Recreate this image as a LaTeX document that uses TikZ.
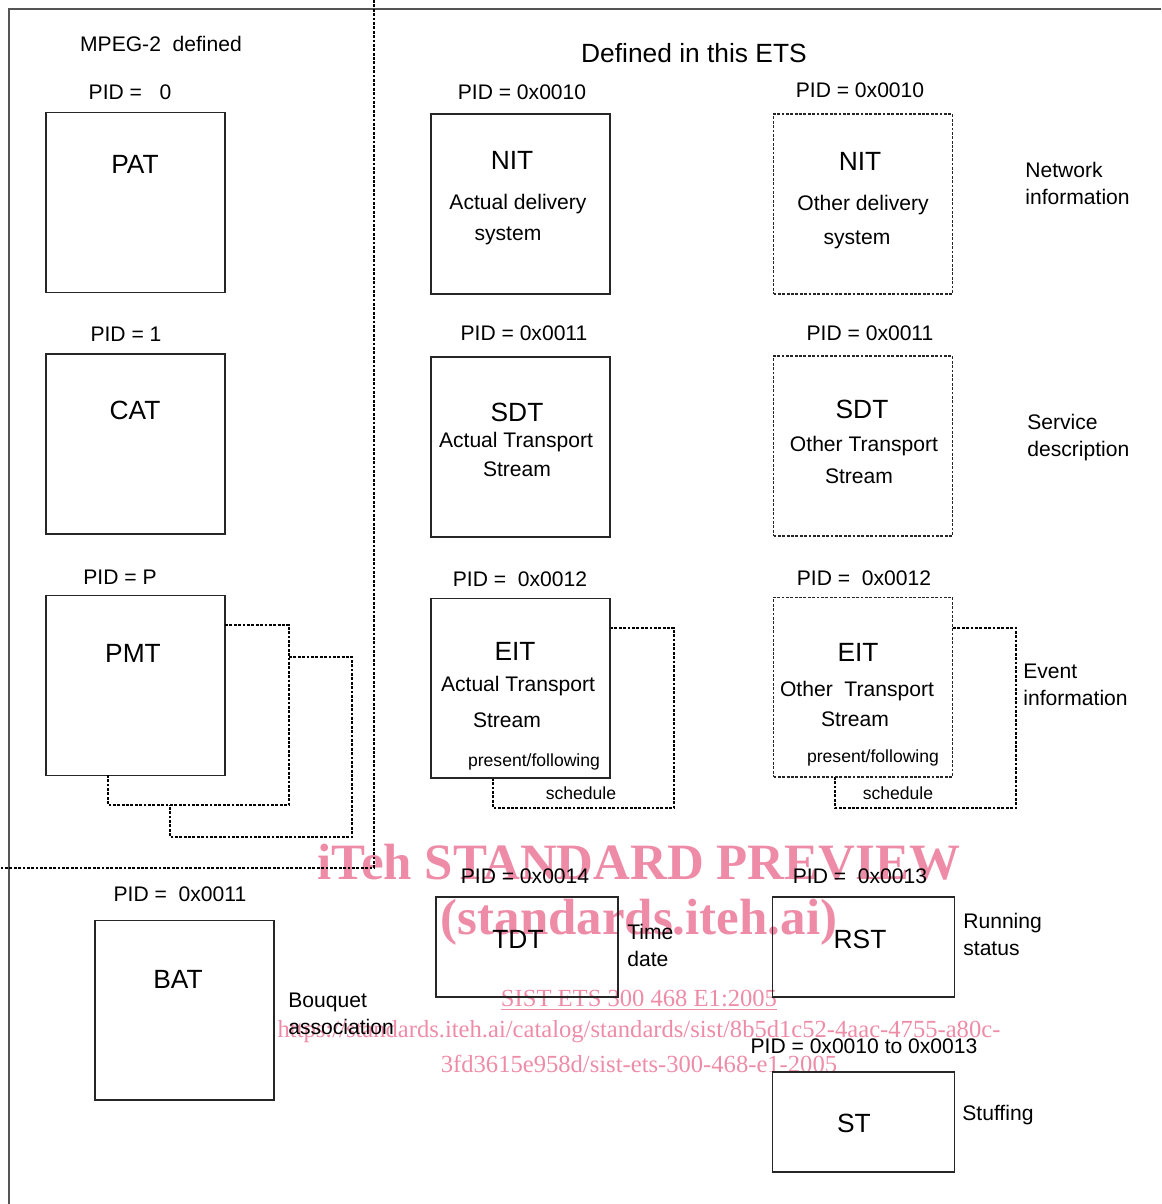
\documentclass[tikz,border=0pt]{standalone}
\usepackage{fontspec}
\setmainfont{Liberation Sans}
\newfontfamily\wmfont{Liberation Serif}
\usetikzlibrary{positioning}
\definecolor{wmpink}{RGB}{238,140,168}
\definecolor{framegray}{RGB}{85,85,85}

\begin{document}
\begin{tikzpicture}[
  x=0.02cm, y=-0.02cm,
  tbl/.style={draw=black!85, line width=0.6pt, minimum width=3.58cm, minimum height=3.6cm, inner sep=0pt},
  tbldot/.style={tbl, dash pattern=on 1.6pt off 0.9pt},
  flat/.style={draw=black!85, line width=0.6pt, minimum width=3.64cm, minimum height=2cm, inner sep=0pt},
  dotline/.style={line width=0.7pt, dash pattern=on 1.6pt off 0.9pt},
  tname/.style={inner sep=0pt, font=\fontsize{15}{18}\selectfont},
  pid/.style={inner sep=0pt, font=\fontsize{12}{14}\selectfont},
  desc/.style={inner sep=0pt, font=\fontsize{12}{14}\selectfont},
  small/.style={inner sep=0pt, font=\fontsize{10}{12}\selectfont},
  side/.style={inner sep=0pt, anchor=west, align=left, font=\fontsize{12}{15.4}\selectfont},
  wmark/.style={inner sep=0pt, text=wmpink, font=\wmfont\fontsize{29}{32}\selectfont\bfseries},
  wmsmall/.style={inner sep=0pt, text=wmpink, font=\wmfont\fontsize{14}{16}\selectfont}
]
\useasboundingbox (0,0) rectangle (1161,1204);

% watermark (behind the drawing)
\node[wmark] (wm1) at (639,862) {iTeh STANDARD PREVIEW};
\node[wmark] (wm2) at (639,922) {(standards.iteh.ai)};
\node[wmsmall] (wm3) at (639,1000) {\underline{SIST ETS 300 468 E1:2005}};
\node[wmsmall] (wm4) at (639,1032) {https://standards.iteh.ai/catalog/standards/sist/8b5d1c52-4aac-4755-a80c-};
\node[wmsmall] (wm5) at (639,1064) {3fd3615e958d/sist-ets-300-468-e1-2005};

% frame and split
\draw[framegray, line width=1pt] (1161,9) -- (9,9) -- (9,1204);
\draw[dotline] (374,0) -- (374,868) -- (0,868);

% MPEG-2 part
\node[pid] (mpeg) at (161,44) {MPEG-2~ defined};
\node[tbl] (pat) at (135.5,202.5) {};
\node[tbl] (cat) at (135.5,444) {};
\node[tbl] (pmt) at (135.5,685.5) {};
\node[pid] (patpid) at (130,92) {PID =~~ 0};
\node[pid] (catpid) at (126,334) {PID = 1};
\node[pid] (pmtpid) at (120,577) {PID = P};
\node[tname] (patname) at (135,164) {PAT};
\node[tname] (catname) at (135,410) {CAT};
\node[tname] (pmtname) at (133,653) {PMT};
\draw[dotline] (225,625) -- (289,625) -- (289,805) -- (108,805) -- (108,775);
\draw[dotline] (289,657) -- (352,657) -- (352,837) -- (170,837) -- (170,805);

% ETS part
\node[font=\fontsize{15}{18}\selectfont, inner sep=0pt] (ets) at (694,53) {Defined in this ETS};

\node[tbl] (nitA) at (520.5,204) {};
\node[tbldot] (nitO) at (863,204) {};
\node[pid] (nitApid) at (522,92) {PID = 0x0010};
\node[pid] (nitOpid) at (860,90) {PID = 0x0010};
\node[tname] (nitAname) at (512,160) {NIT};
\node[desc] (nitA1) at (518,204) {Actual delivery};
\node[desc] (nitA2) at (508,236) {system};
\node[tname] (nitOname) at (860,161) {NIT};
\node[desc] (nitO1) at (863,205) {Other delivery};
\node[desc] (nitO2) at (857,240) {system};
\node[side] (network) at (1025,183.5) {Network\\information};

\node[tbl] (sdtA) at (520.5,447) {};
\node[tbldot] (sdtO) at (863,446) {};
\node[pid] (sdtApid) at (524,333) {PID = 0x0011};
\node[pid] (sdtOpid) at (870,333) {PID = 0x0011};
\node[tname] (sdtAname) at (517,412) {SDT};
\node[desc] (sdtA1) at (516,442) {Actual Transport};
\node[desc] (sdtA2) at (517,469) {Stream};
\node[tname] (sdtOname) at (862,409) {SDT};
\node[desc] (sdtO1) at (864,446) {Other Transport};
\node[desc] (sdtO2) at (859,476) {Stream};
\node[side] (service) at (1027,437.5) {Service\\description};

\draw[dotline] (610,628) -- (674,628) -- (674,808) -- (493,808) -- (493,778);
\draw[dotline] (953,628) -- (1016,628) -- (1016,808) -- (835,808) -- (835,777);
\node[tbl] (eitA) at (520.5,688) {};
\node[tbldot] (eitO) at (863,687) {};
\node[pid] (eitApid) at (520,579) {PID =~ 0x0012};
\node[pid] (eitOpid) at (864,578) {PID =~ 0x0012};
\node[tname] (eitAname) at (515,651) {EIT};
\node[desc] (eitA1) at (518,686) {Actual Transport};
\node[desc] (eitA2) at (507,720) {Stream};
\node[small] (eitA3) at (534,762) {present/following};
\node[small] (eitAsch) at (581,793) {schedule};
\node[tname] (eitOname) at (858,652) {EIT};
\node[desc] (eitO1) at (857,691) {Other~ Transport};
\node[desc] (eitO2) at (855,719) {Stream};
\node[small] (eitO3) at (873,758) {present/following};
\node[small] (eitOsch) at (898,793) {schedule};
\node[side] (event) at (1023,685) {Event\\information};

% lower part
\node[tbl] (bat) at (184.5,1010) {};
\node[pid] (batpid) at (180,894) {PID =~ 0x0011};
\node[tname] (batname) at (178,979) {BAT};
\node[side] (bouquet) at (288,1013.5) {Bouquet\\association};

\node[flat] (tdt) at (527,947) {};
\node[pid] (tdtpid) at (525,876) {PID = 0x0014};
\node[tname] (tdtname) at (518,939) {TDT};
\node[side] (time) at (627,945.5) {Time\\date};

\node[flat] (rst) at (863.5,947) {};
\node[pid] (rstpid) at (860,876) {PID =~ 0x0013};
\node[tname] (rstname) at (860,939) {RST};
\node[side] (running) at (963,934.5) {Running\\status};

\node[flat] (st) at (863.5,1122) {};
\node[pid] (stpid) at (864,1046) {PID = 0x0010 to 0x0013};
\node[tname] (stname) at (854,1123) {ST};
\node[side] (stuffing) at (962,1115) {Stuffing};
\end{tikzpicture}
\end{document}
